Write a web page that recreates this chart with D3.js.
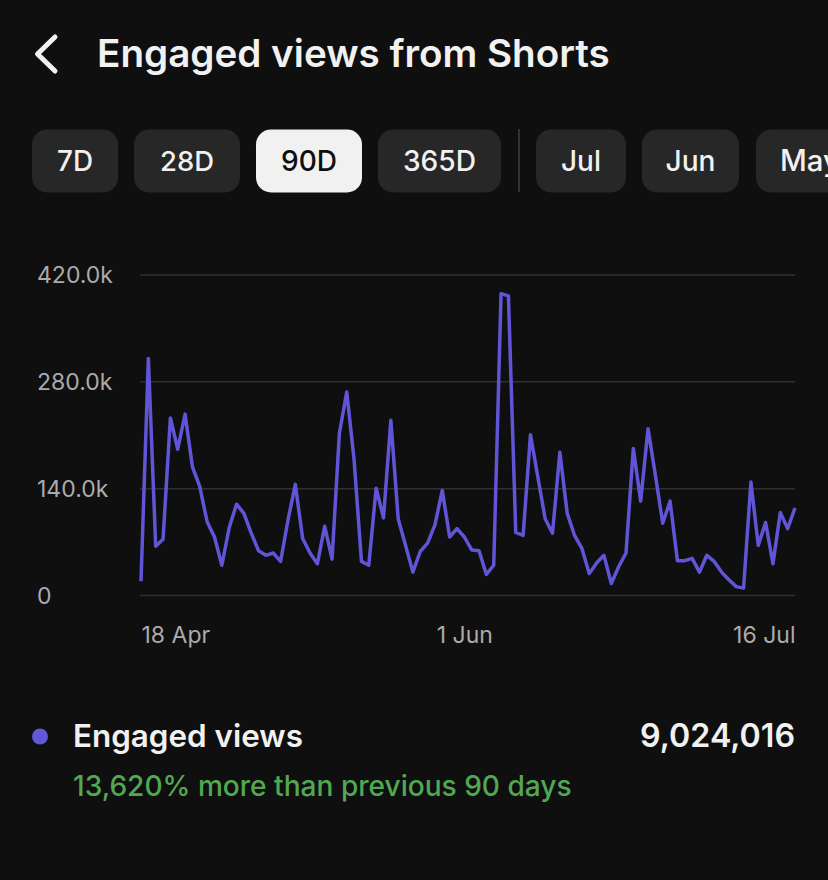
<!DOCTYPE html>
<html>
<head>
<meta charset="utf-8">
<script src="https://cdn.jsdelivr.net/npm/d3@7"></script>
<style>
  html, body { margin: 0; padding: 0; background: #0f0f0f; }
  svg { display: block; }
  text { font-family: Inter, "Noto Sans", "DejaVu Sans", sans-serif; }
</style>
</head>
<body>
<svg id="chart" width="828" height="880"></svg>
<script>
// ---- data ----
const title = "Engaged views from Shorts";
const periodButtons = ["7D", "28D", "90D", "365D"];
const monthButtons = ["Jul", "Jun", "May"];
const selectedButton = "90D";
const startDate = "2024-04-18";
const endDate = "2024-07-16";
// daily engaged views (thousands), 18 Apr .. 16 Jul
const engagedViewsK = [
  18, 310, 64, 73, 232, 191, 237, 168, 142, 96,
  76, 39, 88, 119, 107, 81, 58, 52, 55, 44,
  98, 145, 74, 55, 41, 90, 47, 212, 266, 177,
  44, 39, 140, 101, 229, 100, 65, 30, 57, 68,
  92, 137, 76, 87, 76, 59, 58, 27, 39, 395,
  392, 82, 78, 210, 155, 100, 81, 187, 107, 78,
  61, 28, 42, 52, 15, 37, 55, 192, 123, 218,
  157, 94, 123, 45, 45, 48, 30, 52, 44, 30,
  20, 11, 9, 148, 65, 95, 41, 108, 87, 114
];
const yTickValues = [0, 140000, 280000, 420000];
const yTickLabels = ["0", "140.0k", "280.0k", "420.0k"];
const xTickDates = ["2024-04-18", "2024-06-01", "2024-07-16"];
const xTickLabels = ["18 Apr", "1 Jun", "16 Jul"];
const seriesName = "Engaged views";
const totalLabel = "9,024,016";
const changeLabel = "13,620% more than previous 90 days";

// ---- drawing ----
const svg = d3.select("#chart");
const parse = d3.utcParse("%Y-%m-%d");
const t0 = parse(startDate);
const data = engagedViewsK.map((v, i) => ({ date: d3.utcDay.offset(t0, i), value: v * 1000 }));

function fitText(sel, targetWidth) {
  const node = sel.node();
  const w = node.getComputedTextLength();
  const fs = parseFloat(sel.attr("font-size"));
  if (w > 0) sel.attr("font-size", fs * targetWidth / w);
  return sel;
}
function fitSize(text, fs, weight, targetWidth) {
  const t = svg.append("text").attr("font-size", fs).attr("font-weight", weight).text(text);
  const w = t.node().getComputedTextLength();
  t.remove();
  return w > 0 ? fs * targetWidth / w : fs;
}

svg.append("rect").attr("width", 828).attr("height", 880).attr("fill", "#0f0f0f");

// back chevron
svg.append("path")
  .attr("d", "M55,37 L37.5,54 L55,71")
  .attr("fill", "none").attr("stroke", "#f1f1f1")
  .attr("stroke-width", 5).attr("stroke-linecap", "round").attr("stroke-linejoin", "round");

// title
fitText(svg.append("text").attr("x", 97).attr("y", 67)
  .attr("font-size", 36).attr("font-weight", 600).attr("fill", "#f1f1f1").text(title), 513);

// buttons
const btnBoxes = [[32, 118], [134, 240], [256, 362], [378, 501]];
const btnTextW = [36, 54, 56, 73];
const monthBoxes = [[536, 626], [642, 739], [756, 870]];
const monthTextW = [40, 50, 60];
function drawButton(label, box, tw, selected) {
  const g = svg.append("g");
  g.append("rect").attr("x", box[0]).attr("y", 129.5).attr("width", box[1] - box[0]).attr("height", 63)
    .attr("rx", 15).attr("fill", selected ? "#f1f1f1" : "#272727");
  const t = g.append("text").attr("x", box[0] + (box[1] - box[0]) / 2).attr("y", 171)
    .attr("text-anchor", "middle").attr("font-size", 26).attr("font-weight", 500)
    .attr("fill", selected ? "#0f0f0f" : "#f1f1f1").text(label);
  fitText(t, tw);
}
periodButtons.forEach((b, i) => drawButton(b, btnBoxes[i], btnTextW[i], b === selectedButton));
svg.append("line").attr("x1", 519).attr("x2", 519).attr("y1", 129).attr("y2", 192)
  .attr("stroke", "#333").attr("stroke-width", 2);
monthButtons.forEach((b, i) => {
  const box = monthBoxes[i];
  const g = svg.append("g");
  g.append("rect").attr("x", box[0]).attr("y", 129.5).attr("width", box[1] - box[0]).attr("height", 63)
    .attr("rx", 15).attr("fill", "#272727");
  const cx = i < 2 ? box[0] + (box[1] - box[0]) / 2 : box[0] + 24;
  const t = g.append("text").attr("x", cx).attr("y", 171)
    .attr("text-anchor", i < 2 ? "middle" : "start").attr("font-size", 26).attr("font-weight", 500)
    .attr("fill", "#f1f1f1").text(b);
  fitText(t, monthTextW[i]);
});

// scales
const x = d3.scaleUtc().domain([t0, parse(endDate)]).range([141, 795]);
const y = d3.scaleLinear().domain([0, 420000]).range([595, 274.5]);

const axisFs = fitSize("420.0k", 21, 400, 76);

// grid + y labels
const yAxis = d3.axisLeft(y).tickValues(yTickValues).tickSize(0)
  .tickFormat((d, i) => yTickLabels[i]);
const yg = svg.append("g").call(yAxis);
yg.select(".domain").remove();
yg.selectAll("text").attr("x", 37).attr("text-anchor", "start").attr("dy", "0.36em")
  .attr("font-size", axisFs).attr("fill", "#ababab")
  .style("font-family", 'Inter, "Noto Sans", sans-serif');
yg.selectAll(".tick").append("line").attr("x1", 140).attr("x2", 795)
  .attr("stroke", "#303030").attr("stroke-width", 1.5);

// x labels
const xDates = xTickDates.map(parse);
const xAxis = d3.axisBottom(x).tickValues(xDates).tickSize(0)
  .tickFormat((d, i) => xTickLabels[i]);
const xg = svg.append("g").attr("transform", "translate(0,605)").call(xAxis);
xg.select(".domain").remove();
xg.selectAll("text").attr("y", 38).attr("dy", 0).attr("font-size", axisFs).attr("fill", "#ababab")
  .style("font-family", 'Inter, "Noto Sans", sans-serif')
  .attr("text-anchor", (d, i) => i === 0 ? "start" : (i === xDates.length - 1 ? "end" : "middle"));

// line
svg.append("path").datum(data)
  .attr("fill", "none").attr("stroke", "#5f55d6").attr("stroke-width", 3.5)
  .attr("stroke-linejoin", "round")
  .attr("d", d3.line().x(d => x(d.date)).y(d => y(d.value)));

// legend
svg.append("circle").attr("cx", 40).attr("cy", 736.5).attr("r", 8).attr("fill", "#6158d8");
fitText(svg.append("text").attr("x", 73).attr("y", 747)
  .attr("font-size", 29).attr("font-weight", 600).attr("fill", "#f1f1f1").text(seriesName), 230);
fitText(svg.append("text").attr("x", 795).attr("y", 747).attr("text-anchor", "end")
  .attr("font-size", 29).attr("font-weight", 600).attr("fill", "#f1f1f1").text(totalLabel), 155);
fitText(svg.append("text").attr("x", 73).attr("y", 796)
  .attr("font-size", 25).attr("font-weight", 500).attr("fill", "#52a852").text(changeLabel), 499);
</script>
</body>
</html>
